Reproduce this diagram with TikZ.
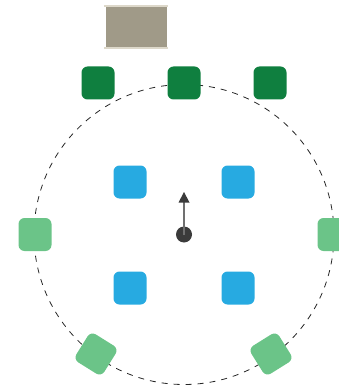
\documentclass[tikz,border=0pt]{standalone}
\begin{document}
\begin{tikzpicture}[x=1pt,y=-1pt]
\definecolor{dkgreen}{HTML}{0F7F3F}
\definecolor{ltgreen}{HTML}{6BC488}
\definecolor{skyblue}{HTML}{27AAE1}
\definecolor{tablebrown}{HTML}{A09A88}
\definecolor{tableedge}{HTML}{DDD8CA}
\definecolor{dotgray}{HTML}{3B3B3B}
\definecolor{stemgray}{HTML}{707070}
\tikzset{
  seat/.style={minimum width=33pt,minimum height=33pt,inner sep=0pt,rounded corners=6pt,draw=none},
  dkseat/.style={seat,fill=dkgreen},
  ltseat/.style={seat,fill=ltgreen},
  blseat/.style={seat,fill=skyblue},
  ring/.style={draw=black!85,line width=0.8pt,dash pattern=on 6pt off 6pt}
}
\useasboundingbox (0,0) rectangle (339,390);
% dashed circle
\coordinate (c) at (184,234.5);
\draw[ring] (c) circle[radius=150];
% table
\fill[tablebrown] (105.5,6) rectangle (166.5,48);
\fill[tableedge] (104,5) rectangle (168,7);
\fill[tableedge] (104,47) rectangle (168,49);
% top dark green seats
\node[dkseat] (t1) at (98,83) {};
\node[dkseat] (t2) at (184,83) {};
\node[dkseat] (t3) at (270,83) {};
% blue seats
\node[blseat] (b1) at (130,182) {};
\node[blseat] (b2) at (238,182) {};
\node[blseat] (b3) at (130,288) {};
\node[blseat] (b4) at (238,288) {};
% light green seats
\node[ltseat] (l1) at (35,234.5) {};
\node[ltseat] (l2) at (334,234.5) {};
\node[ltseat,rotate=-32] (l3) at (96,354) {};
\node[ltseat,rotate=32] (l4) at (271,354) {};
% center marker with arrow
\node[circle,fill=dotgray,minimum size=16pt,inner sep=0pt] (dot) at (c) {};
\coordinate (tipbase) at (184,202);
\draw[stemgray,line width=1.6pt] (dot.center) -- (tipbase);
\fill[dotgray] (184,192) -- (178.5,202.5) -- (189.5,202.5) -- cycle;
\end{tikzpicture}
\end{document}
